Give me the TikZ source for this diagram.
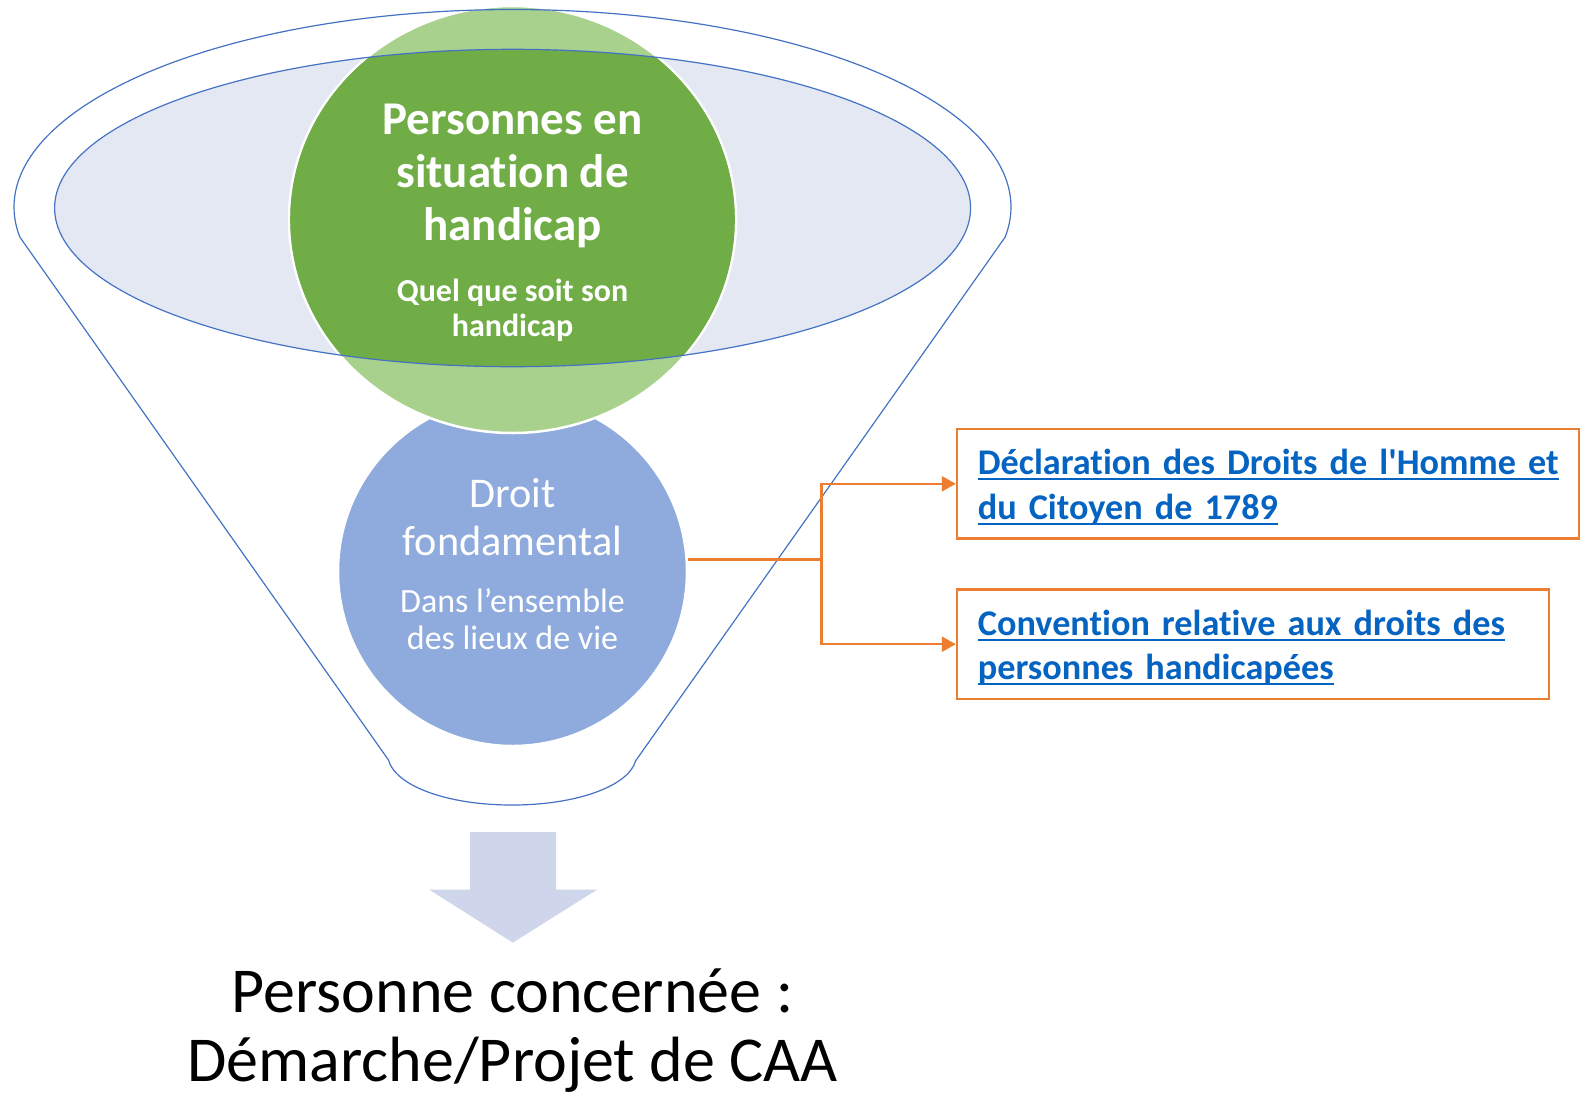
\documentclass[tikz,border=0pt]{standalone}
\usepackage{fontspec}
\setmainfont{Carlito}[Ligatures={TeX,NoCommon}]
\usetikzlibrary{arrows.meta,shapes.geometric}
\definecolor{lineblue}{HTML}{4472C4}
\definecolor{ellfill}{HTML}{E3E8F3}
\definecolor{dkgreen}{HTML}{70AD47}
\definecolor{ltgreen}{HTML}{A9D18E}
\definecolor{circblue}{HTML}{8FAADC}
\definecolor{arrowfill}{HTML}{CFD5EA}
\definecolor{conorange}{HTML}{ED7D31}
\definecolor{linkblue}{HTML}{0563C1}
\newsavebox\myulbox
\newcommand\myul[1]{\leavevmode\sbox\myulbox{#1}\rlap{\rule[-5.5pt]{\wd\myulbox}{2pt}}\usebox\myulbox}
\newcommand\topstrut{\rule{0pt}{32pt}}
\begin{document}
\begin{tikzpicture}[x=1pt,y=-1pt,
  outline/.style={draw=lineblue, line width=1.2pt},
  whitetext/.style={text=white, inner sep=0pt, align=center},
  linkbox/.style={draw=conorange, line width=2.2pt, inner xsep=21pt, inner ysep=0pt,
    minimum height=109.5pt, align=left, text=linkblue,
    font=\fontsize{36.2}{44.5}\selectfont\bfseries},
  conn/.style={draw=conorange, line width=2.5pt},
  tip/.style={-{Triangle[length=14pt,width=15pt]}}
]
\useasboundingbox (0,0) rectangle (1589,1096);
% inner ellipse fill
\fill[ellfill] (512.6,208) ellipse [x radius=458pt, y radius=158.7pt];
% blue circle
\node[circle, fill=circblue, draw=white, line width=2.5pt, minimum size=349pt, inner sep=0pt] (blue) at (512.5,571.5) {};
% green circle (light part)
\node[ellipse, fill=ltgreen, draw=white, line width=2.5pt, minimum width=447pt, minimum height=427pt, inner sep=0pt] (green) at (512.5,219.5) {};
% darker green inside the inner ellipse
\begin{scope}
  \clip (512.6,208) ellipse [x radius=458pt, y radius=158.7pt];
  \fill[dkgreen] (512.5,219.5) ellipse [x radius=222.3pt, y radius=212.3pt];
\end{scope}
% inner ellipse border
\draw[outline] (512.6,208) ellipse [x radius=458pt, y radius=158.7pt];
% funnel outline
\draw[outline, line join=miter]
  plot[domain=171.24:368.76, samples=160] ({512.5+498.5*cos(\x)},{207+197.5*sin(\x)})
  -- (635.5,761)
  .. controls (629,785) and (579,805) .. (512,805)
  .. controls (445,805) and (395,785) .. (388.5,760)
  -- cycle;
% big down arrow
\fill[arrowfill] (470,832) -- (556,832) -- (556,889.5) -- (597.3,889.5) -- (512.8,942.6)
  -- (429,889.5) -- (470,889.5) -- cycle;
% texts in circles
\node[whitetext, font=\fontsize{47}{52.8}\selectfont\bfseries] (gtitle) at (512.5,176) {Personnes en\\situation de\\handicap};
\node[whitetext, font=\fontsize{32}{34.8}\selectfont\bfseries] (gsub) at (512.5,310.5) {Quel que soit son\\handicap};
\node[whitetext, font=\fontsize{42.3}{47.3}\selectfont] (btitle) at (512.5,517) {Droit\\fondamental};
\node[whitetext, font=\fontsize{34}{37.6}\selectfont] (bsub) at (512.5,619) {Dans l'ensemble\\des lieux de vie};
% link boxes
\node[linkbox, minimum width=622pt, text width=580pt] (b1) at (1267.9,483.8)
  {\topstrut\myul{Déclaration des Droits de l\textquotesingle Homme et}\\\myul{du Citoyen de 1789}};
\node[linkbox, minimum width=592pt, text width=550pt] (b2) at (1252.9,644.2)
  {\topstrut\myul{Convention relative aux droits des}\\\myul{personnes handicapées}};
% connectors
\coordinate (j) at (821.6,559.3);
\draw[conn] (j -| blue.east) -- (j);
\draw[conn, tip] (j) |- (b1.west);
\draw[conn, tip] (j) |- (b2.west);
% bottom text
\node[inner sep=0pt, align=center, font=\fontsize{64}{69}\selectfont] (result) at (512.5,1031) {Personne concernée :\\Démarche/Projet de CAA};
\end{tikzpicture}
\end{document}
